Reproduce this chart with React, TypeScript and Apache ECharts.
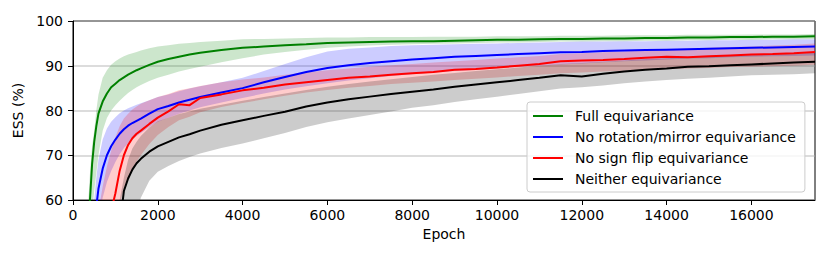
import React, { useEffect, useRef } from "react";
import * as echarts from "echarts";

const epochs = [300, 400, 450, 500, 550, 600, 700, 800, 900, 1000, 1100, 1200, 1300, 1400, 1500, 1600, 1800, 2000, 2250, 2500, 2750, 3000, 3500, 4000, 4500, 5000, 5500, 6000, 6500, 7000, 7500, 8000, 8500, 9000, 9500, 10000, 10500, 11000, 11500, 12000, 12500, 13000, 13500, 14000, 14500, 15000, 15500, 16000, 16500, 17000, 17500];

const seriesNames = ["Full equivariance", "No rotation/mirror equivariance", "No sign flip equivariance", "Neither equivariance"];

const fullMean = [40, 60, 68, 73, 76.5, 79.3, 82, 83.8, 85.2, 86.0, 86.8, 87.4, 88.0, 88.5, 89.0, 89.4, 90.2, 90.9, 91.5, 92.0, 92.5, 92.9, 93.5, 94.0, 94.3, 94.6, 94.8, 95.1, 95.2, 95.3, 95.4, 95.5, 95.5, 95.6, 95.7, 95.8, 95.8, 95.9, 96.0, 96.0, 96.1, 96.1, 96.2, 96.2, 96.3, 96.3, 96.4, 96.4, 96.5, 96.5, 96.6];
const fullLower = [25, 48, 57, 62, 66, 70, 75.5, 78.3, 80.0, 81.2, 82.2, 83.1, 83.9, 84.6, 85.2, 85.7, 86.6, 87.3, 88.0, 88.7, 89.3, 89.8, 90.8, 91.7, 92.5, 93.1, 93.6, 94.0, 94.3, 94.5, 94.7, 94.8, 94.9, 95.0, 95.1, 95.2, 95.2, 95.3, 95.4, 95.4, 95.5, 95.5, 95.6, 95.6, 95.7, 95.7, 95.8, 95.8, 95.9, 95.9, 96.0];
const fullUpper = [50, 66, 72, 75.5, 80, 83.5, 87.3, 89.0, 90.2, 91.0, 91.6, 92.1, 92.5, 92.8, 93.1, 93.4, 93.9, 94.3, 94.6, 94.9, 95.1, 95.3, 95.6, 95.9, 96.0, 96.1, 96.2, 96.3, 96.3, 96.4, 96.4, 96.4, 96.5, 96.5, 96.5, 96.6, 96.6, 96.6, 96.7, 96.7, 96.7, 96.8, 96.8, 96.8, 96.9, 96.9, 96.9, 97.0, 97.0, 97.0, 97.1];

const noRotMean = [30, 42, 47, 53, 58.5, 62.5, 67, 70, 72, 73.5, 74.8, 75.8, 76.6, 77.2, 77.7, 78.2, 79.3, 80.3, 81.0, 81.8, 82.4, 83.0, 84.0, 85.0, 86.3, 87.5, 88.6, 89.5, 90.1, 90.6, 91.0, 91.4, 91.7, 92.0, 92.2, 92.4, 92.6, 92.8, 93.0, 93.1, 93.3, 93.4, 93.5, 93.6, 93.7, 93.8, 93.9, 94.0, 94.1, 94.2, 94.3];
const noRotLower = [20, 35, 40, 46, 52, 56, 60.5, 64, 66.5, 68.5, 70.2, 71.6, 72.7, 73.6, 74.3, 75.0, 76.3, 77.5, 78.4, 79.3, 80.0, 80.7, 81.8, 82.8, 83.8, 84.7, 85.4, 86.1, 86.7, 87.2, 87.7, 88.1, 88.5, 88.8, 89.1, 89.4, 89.7, 90.0, 90.3, 90.5, 90.8, 91.0, 91.2, 91.4, 91.6, 91.7, 91.9, 92.0, 92.1, 92.2, 92.3];
const noRotUpper = [40, 49, 54, 60, 65, 69, 73.5, 76, 77.5, 78.5, 79.4, 80.0, 80.5, 80.9, 81.3, 81.6, 82.3, 83.0, 83.6, 84.3, 84.9, 85.4, 86.3, 87.3, 88.8, 90.4, 91.9, 93.2, 93.8, 94.1, 94.4, 94.6, 94.7, 94.8, 94.9, 95.0, 95.1, 95.2, 95.3, 95.4, 95.4, 95.5, 95.5, 95.6, 95.6, 95.7, 95.7, 95.8, 95.8, 95.9, 95.9];

const noSignMean = [20, 30, 34, 38, 42, 45, 50, 54, 57.5, 61.5, 66.5, 70.0, 72.3, 73.8, 74.8, 75.5, 77.0, 78.4, 79.8, 81.4, 81.2, 82.8, 83.6, 84.5, 85.1, 85.8, 86.3, 86.8, 87.3, 87.6, 88.0, 88.3, 88.6, 89.1, 89.3, 89.6, 90.0, 90.4, 91.0, 91.2, 91.3, 91.5, 91.8, 92.0, 91.9, 92.1, 92.3, 92.5, 92.6, 92.8, 93.1];
const noSignLower = [10, 20, 24, 28, 32, 36, 40, 46, 51, 55, 59, 62.5, 65, 67, 68.6, 70.0, 72.5, 74.5, 76.3, 77.8, 78.6, 79.6, 80.8, 81.7, 82.5, 83.3, 84.0, 84.6, 85.1, 85.5, 85.9, 86.2, 86.5, 86.8, 87.1, 87.4, 87.7, 88.0, 88.3, 88.5, 88.7, 88.9, 89.1, 89.3, 89.4, 89.5, 89.7, 89.8, 89.9, 90.0, 90.2];
const noSignUpper = [30, 40, 45, 50, 54, 57.5, 63, 67.5, 71, 74, 76.5, 78.2, 79.3, 80.2, 80.9, 81.5, 82.3, 83.0, 83.7, 84.5, 85.0, 85.5, 86.3, 86.9, 87.4, 88.0, 88.5, 89.0, 89.4, 89.8, 90.1, 90.4, 90.7, 91.0, 91.3, 91.6, 91.9, 92.2, 92.6, 92.8, 93.0, 93.2, 93.5, 93.7, 93.8, 94.0, 94.2, 94.3, 94.5, 94.7, 95.0];

const neitherMean = [10, 15, 18, 21, 24, 27, 32, 37, 41, 45, 54, 62.0, 64.8, 66.8, 68.2, 69.2, 70.8, 72.0, 73.0, 74.0, 74.7, 75.5, 76.8, 77.8, 78.8, 79.7, 80.9, 81.8, 82.5, 83.1, 83.7, 84.2, 84.7, 85.3, 85.8, 86.3, 86.8, 87.3, 87.9, 87.6, 88.2, 88.7, 89.1, 89.4, 89.8, 89.9, 90.1, 90.3, 90.5, 90.7, 90.9];
const neitherLower = [5, 8, 10, 12, 14, 16, 20, 25, 30, 35, 40, 44, 48, 52, 57, 60.5, 64.3, 66.3, 67.6, 68.7, 69.6, 70.4, 71.6, 72.6, 73.8, 75.0, 76.3, 77.4, 78.2, 79.0, 79.8, 80.6, 81.2, 81.9, 82.5, 83.1, 83.7, 84.3, 84.9, 85.2, 85.6, 86.1, 86.5, 86.8, 87.1, 87.3, 87.6, 87.9, 88.0, 88.1, 88.3];
const neitherUpper = [15, 22, 25, 28, 32, 35, 40, 44, 48, 52, 60, 65, 69, 71.5, 73.0, 74.3, 76.2, 77.6, 78.4, 79.2, 79.8, 80.4, 81.3, 82.2, 83.0, 83.8, 84.6, 85.3, 85.9, 86.5, 87.0, 87.5, 88.0, 88.4, 88.8, 89.2, 89.6, 90.0, 90.4, 90.6, 90.9, 91.2, 91.5, 91.7, 91.9, 92.1, 92.3, 92.4, 92.6, 92.7, 92.9];

const FONT = "DejaVu Sans";

export default function App() {
  const ref = useRef<HTMLDivElement>(null);
  useEffect(() => {
    document.body.style.margin = "0";
    if (!ref.current) return;
    const chart = echarts.init(ref.current, null, { renderer: "svg" });
    const groups = [
      { key: "g", name: seriesNames[0], mean: fullMean, lo: fullLower, hi: fullUpper, color: "#008000", fill: "rgba(0,128,0,0.2)" },
      { key: "b", name: seriesNames[1], mean: noRotMean, lo: noRotLower, hi: noRotUpper, color: "#0000ff", fill: "rgba(0,0,255,0.2)" },
      { key: "r", name: seriesNames[2], mean: noSignMean, lo: noSignLower, hi: noSignUpper, color: "#ff0000", fill: "rgba(255,0,0,0.2)" },
      { key: "k", name: seriesNames[3], mean: neitherMean, lo: neitherLower, hi: neitherUpper, color: "#000000", fill: "rgba(0,0,0,0.2)" },
    ];
    const series: any[] = [];
    groups.forEach((g) => {
      series.push({
        type: "custom",
        name: g.key + "_band",
        data: [[epochs[0], g.mean[0]]],
        clip: true,
        silent: true,
        z: 1,
        renderItem: (_params: any, api: any) => {
          const top = epochs.map((x, i) => api.coord([x, g.hi[i]]));
          const bottom = epochs.map((x, i) => api.coord([x, g.lo[i]])).reverse();
          return {
            type: "polygon",
            shape: { points: top.concat(bottom) },
            style: { fill: g.fill, stroke: "none" },
          };
        },
      });
    });
    groups.forEach((g) => {
      series.push({
        type: "line",
        name: g.name,
        data: epochs.map((x, i) => [x, g.mean[i]]),
        symbol: "none",
        color: g.color,
        lineStyle: { color: g.color, width: 2 },
        z: 3,
      });
    });
    chart.setOption({
      animation: false,
      textStyle: { fontFamily: FONT },
      grid: { left: 73, top: 21, right: 15, bottom: 60, show: true, borderColor: "#000", borderWidth: 1, backgroundColor: "transparent" },
      xAxis: {
        type: "value",
        min: 0,
        max: 17500,
        interval: 2000,
        name: "Epoch",
        nameLocation: "middle",
        nameGap: 23,
        nameTextStyle: { fontSize: 14, color: "#000", fontFamily: FONT },
        axisLine: { lineStyle: { color: "#000", width: 1 } },
        axisTick: { show: true, length: 5, lineStyle: { color: "#000" } },
        axisLabel: { fontSize: 14, color: "#000", margin: 8, showMaxLabel: false, fontFamily: FONT, formatter: (v: number) => String(v) },
        splitLine: { show: false },
      },
      yAxis: {
        type: "value",
        min: 60,
        max: 100,
        interval: 10,
        name: "ESS (%)",
        nameLocation: "middle",
        nameGap: 46,
        nameTextStyle: { fontSize: 14, color: "#000", fontFamily: FONT },
        axisLine: { show: true, lineStyle: { color: "#000", width: 1 } },
        axisTick: { show: true, length: 5, lineStyle: { color: "#000" } },
        axisLabel: { fontSize: 14, color: "#000", margin: 10, fontFamily: FONT },
        splitLine: { show: true, lineStyle: { color: "rgba(176,176,176,0.6)", width: 1.5 } },
      },
      legend: {
        data: seriesNames,
        orient: "vertical",
        left: 527,
        top: 102,
        icon: "rect",
        itemWidth: 30,
        itemHeight: 2,
        itemGap: 5,
        padding: [6, 9, 5, 6],
        backgroundColor: "rgba(255,255,255,0.8)",
        borderColor: "#cccccc",
        borderWidth: 1,
        borderRadius: 3,
        textStyle: { fontSize: 14, color: "#000", fontFamily: FONT, lineHeight: 16, padding: [0, 0, 0, 7] },
      },
      series,
    });
    return () => chart.dispose();
  }, []);
  return <div ref={ref} style={{ width: 830, height: 260 }} />;
}
